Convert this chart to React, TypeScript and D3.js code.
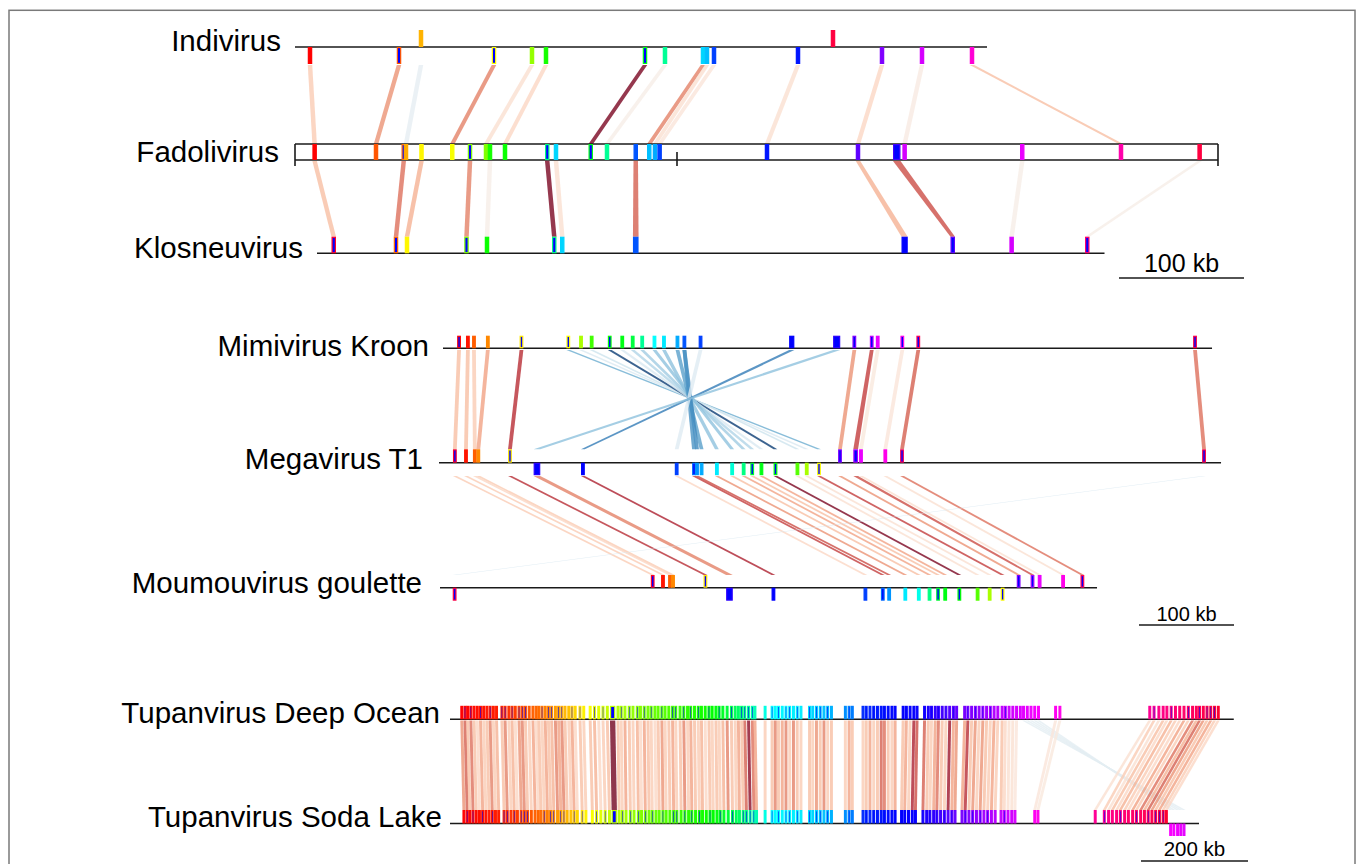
import React from "react";
import * as d3 from "d3";

type Row = number[];

// ================= Panel 1 : Indivirus / Fadolivirus / Klosneuvirus =================
// gene rows: [centre kb, ortholog hue, core (blue fill) 0/1, strand (1 above, -1 below), length kb?]
const indivirusGenes: Row[] = [
  [12.0, 0, 0, -1], [83.2, 20, 1, -1], [100.8, 42, 0, 1], [159.2, 60, 1, -1], [189.6, 85, 0, -1],
  [200.8, 115, 0, -1], [280, 125, 1, -1], [296, 155, 0, -1], [326.4, 190, 0, -1], [329.6, 195, 0, -1],
  [335.2, 225, 0, -1], [402.4, 235, 0, -1], [430.4, 345, 0, 1], [469.6, 270, 0, -1], [501.6, 290, 0, -1],
  [541.6, 310, 0, -1],
];
const fadolivirusGenes: Row[] = [
  [15.7, 0, 0, 1], [64.8, 20, 0, 1], [87, 25, 1, 1], [88.8, 40, 0, 1], [101.2, 58, 0, 1], [125.8, 62, 0, 1],
  [140, 90, 1, 1], [152.8, 90, 0, 1], [156, 115, 0, 1], [168, 118, 0, 1], [201.8, 150, 1, 1], [208.8, 190, 0, 1],
  [236.6, 125, 1, 1], [249.6, 155, 0, 1], [272.6, 220, 0, 1], [283.4, 195, 0, 1], [288, 200, 0, 1],
  [291.7, 225, 0, 1], [377.6, 235, 0, 1], [450.4, 262, 0, 1], [481.4, 255, 1, 1, 6], [487.7, 290, 0, 1],
  [581.8, 295, 0, 1], [660.8, 320, 0, 1], [723.7, 345, 0, 1],
];
const klosneuvirusGenes: Row[] = [
  [13.4, 350, 1, 1], [63.2, 25, 1, 1], [72, 58, 0, 1], [119.6, 90, 1, 1], [136, 118, 0, 1], [189.8, 150, 1, 1],
  [196.2, 190, 0, 1], [255, 220, 0, 1, 4.5], [470.1, 240, 0, 1, 5], [508.6, 262, 1, 1], [555.7, 290, 0, 1],
  [616.2, 335, 1, 1],
];
// comparisons: [kb upper genome, kb lower genome, identity 0..1, inverted 0/1]
const indiFadoLinks: Row[] = [
  [12.0, 15.7, 0.25], [83.2, 64.8, 0.45], [100.8, 88.8, 0.08, 1], [159.2, 125.8, 0.5], [189.6, 152.8, 0.15],
  [200.8, 168, 0.2], [280, 236.6, 0.95], [296, 249.6, 0.05], [326.4, 283.4, 0.5], [329.6, 288, 0.15],
  [335.2, 291.7, 0.12], [402.4, 377.6, 0.15], [469.6, 450.4, 0.2], [501.6, 487.7, 0.08], [541.6, 660.8, 0.3],
];
const fadoKlosLinks: Row[] = [
  [15.7, 13.4, 0.3], [87, 63.2, 0.55], [101.2, 72, 0.35], [140, 119.6, 0.5], [156, 136, 0.05],
  [201.8, 189.8, 0.95], [208.8, 196.2, 0.15], [272.6, 255, 0.6], [450.4, 470.1, 0.35], [481.4, 508.6, 0.65],
  [581.8, 555.7, 0.05], [723.7, 616.2, 0.05],
];
const topGenomeLengths = [553.6, 738.4, 630];
const fadolivirusContigBreaks = [305.6];

// ================= Panel 2 : Mimivirus Kroon / Megavirus T1 / Moumouvirus goulette =================
const mimivirusGenes: Row[] = [
  [16.9, 0, 1, 1], [26.2, 5, 0, 1], [32.6, 22, 0, 1], [47.2, 32, 0, 1], [82.6, 55, 1, 1], [131.9, 60, 1, 1],
  [145.3, 80, 0, 1], [156.5, 105, 0, 1], [175.5, 120, 1, 1], [188.7, 125, 0, 1], [199.7, 135, 0, 1],
  [209.7, 155, 0, 1], [222.6, 180, 0, 1], [232.6, 185, 0, 1], [246.8, 200, 0, 1], [254.1, 220, 0, 1],
  [271.1, 225, 0, 1], [367.1, 240, 0, 1, 5.5], [414.4, 250, 1, 1, 7.5], [433, 270, 1, 1], [451.3, 285, 1, 1],
  [457.6, 295, 0, 1], [483.5, 305, 1, 1], [500.3, 340, 1, 1], [791.6, 345, 1, 1],
];
const megavirusGenes: Row[] = [
  [16.7, 350, 1, 1], [28.4, 5, 0, 1], [37.7, 22, 0, 1], [41.4, 32, 0, 1], [74.7, 55, 1, 1], [422.1, 270, 1, 1],
  [438.6, 280, 1, 1, 5], [444.2, 295, 0, 1], [469.8, 305, 0, 1], [487.4, 340, 1, 1], [805.3, 345, 1, 1],
  [103.1, 250, 1, -1, 7], [151.5, 240, 0, -1], [250.2, 225, 0, -1], [268.4, 215, 1, -1], [271.6, 205, 0, -1],
  [276.4, 200, 0, -1], [292.5, 185, 0, -1], [308.6, 170, 0, -1], [320.7, 150, 0, -1], [329.7, 130, 1, -1],
  [339.4, 125, 0, -1], [354.2, 120, 1, -1], [377.3, 100, 0, -1], [387.1, 80, 0, -1], [400, 60, 1, -1],
];
const moumouvirusGenes: Row[] = [
  [223.9, 350, 1, 1], [234.7, 5, 0, 1], [242.1, 22, 0, 1], [245.3, 32, 0, 1], [279.4, 55, 1, 1],
  [609.1, 270, 1, 1], [623.7, 280, 1, 1], [631.2, 295, 0, 1], [655.9, 305, 0, 1], [676.2, 340, 1, 1],
  [15.4, 345, 1, -1], [304.7, 250, 1, -1, 7], [351, 240, 0, -1], [447.8, 225, 0, -1], [466.1, 215, 1, -1],
  [472.8, 205, 0, -1], [489.8, 185, 0, -1], [504, 175, 0, -1], [515.3, 150, 0, -1], [524.3, 130, 1, -1],
  [531.8, 125, 0, -1], [546.7, 120, 1, -1], [565.9, 100, 0, -1], [578.6, 80, 0, -1], [592.2, 60, 1, -1],
];
const mimiMegaLinks: Row[] = [
  [16.9, 16.7, 0.3], [26.2, 28.4, 0.3], [32.6, 37.7, 0.25], [47.2, 41.4, 0.4], [82.6, 74.7, 0.75],
  [433, 422.1, 0.45], [451.3, 438.6, 0.7], [457.6, 444.2, 0.1], [483.5, 469.8, 0.12], [500.3, 487.4, 0.6],
  [791.6, 805.3, 0.55],
  [131.9, 400, 0.5, 1], [145.3, 387.1, 0.15, 1], [156.5, 377.3, 0.2, 1], [175.5, 354.2, 0.95, 1],
  [188.7, 339.4, 0.15, 1], [199.7, 329.7, 0.3, 1], [209.7, 320.7, 0.35, 1], [222.6, 308.6, 0.4, 1],
  [232.6, 292.5, 0.4, 1], [246.8, 276.4, 0.55, 1], [254.1, 271.6, 0.65, 1], [254.1, 268.4, 0.6, 1],
  [271.1, 250.2, 0.12, 1], [367.1, 151.5, 0.7, 1], [414.4, 103.1, 0.4, 1],
];
const megaMouLinks: Row[] = [
  [16.7, 223.9, 0.25], [28.4, 234.7, 0.25], [37.7, 242.1, 0.2], [41.4, 245.3, 0.25], [74.7, 279.4, 0.75],
  [103.1, 304.7, 0.5], [151.5, 351, 0.8], [250.2, 447.8, 0.2], [268.4, 466.1, 0.7], [271.6, 472.8, 0.65],
  [292.5, 489.8, 0.45], [308.6, 504, 0.3], [320.7, 515.3, 0.4], [329.7, 524.3, 0.3], [339.4, 531.8, 0.4],
  [354.2, 546.7, 0.95], [377.3, 565.9, 0.15], [387.1, 578.6, 0.15], [400, 592.2, 0.7], [422.1, 609.1, 0.45],
  [438.6, 623.7, 0.65], [444.2, 631.2, 0.15], [469.8, 655.9, 0.15], [487.4, 676.2, 0.55],
  [805.3, 15.4, 0.15, 1],
];
const midGenomeLengths = [809.5, 823.2, 691.6];

// ================= Panel 3 : Tupanvirus Deep Ocean / Soda Lake =================
// [kb Deep Ocean, kb Soda Lake, identity, inverted]
const tupLinks: Row[] = [
  [22, 26, 0.45], [28, 32, 0.6], [33, 37, 0.3], [39, 43, 0.55], [45, 49, 0.3], [51, 55, 0.2], [57, 61, 0.4],
  [63, 67, 0.25], [69, 73, 0.3], [75, 79, 0.5], [81, 85, 0.25], [87, 91, 0.35],
  [97, 101, 0.3], [103, 107, 0.5], [110, 114, 0.25], [116, 120, 0.35], [122, 126, 0.2], [129, 133, 0.45],
  [135, 139, 0.5], [141, 145, 0.3], [148, 152, 0.25], [155, 159, 0.4], [161, 165, 0.2],
  [166, 170, 0.3], [172, 176, 0.25], [178, 182, 0.4], [184, 188, 0.3], [190, 194, 0.35], [197, 201, 0.5],
  [203, 207, 0.4], [209, 213, 0.5], [215, 219, 0.3],
  [222, 226, 0.25], [228, 232, 0.4], [234, 238, 0.2], [243, 247, 0.3], [250, 254, 0.25],
  [262, 266, 0.3], [270, 274, 0.35], [278, 282, 0.2], [286, 290, 0.25], [294, 298, 0.3],
  [304, 307, 0.97],
  [314, 316, 0.3], [320, 322, 0.25], [327, 329, 0.4], [335, 337, 0.3], [342, 344, 0.25], [350, 352, 0.35],
  [356, 358, 0.2], [363, 365, 0.4], [370, 372, 0.3], [376, 378, 0.25],
  [383, 385, 0.2], [389, 391, 0.3], [396, 398, 0.45], [402, 404, 0.25], [409, 411, 0.3], [416, 418, 0.4],
  [422, 424, 0.25], [430, 432, 0.3], [437, 439, 0.5], [444, 446, 0.25], [450, 452, 0.4], [457, 459, 0.3],
  [464, 466, 0.25], [470, 472, 0.35], [477, 479, 0.2], [484, 486, 0.3], [490, 492, 0.25],
  [497, 499, 0.3], [503, 505, 0.25], [510, 512, 0.35], [518, 520, 0.5], [526, 528, 0.3], [533, 535, 0.25],
  [539, 541, 0.4],
  [545, 548, 0.3], [551, 554, 0.6], [558, 561, 0.9], [565, 568, 0.55], [570, 573, 0.4],
  [589, 589, 0.25], [602, 602, 0.3], [608, 608, 0.5], [614, 614, 0.3], [621, 621, 0.4], [628, 628, 0.5],
  [635, 635, 0.25], [642, 642, 0.5], [649, 649, 0.3], [656, 656, 0.25],
  [672, 672, 0.3], [678, 678, 0.25], [685, 685, 0.45], [692, 692, 0.3], [699, 699, 0.5], [706, 706, 0.25],
  [713, 713, 0.3],
  [739, 739, 0.25], [746, 746, 0.4], [752, 752, 0.3],
  [772, 772, 0.25], [778, 778, 0.3], [785, 785, 0.4], [792, 792, 0.25], [799, 799, 0.3], [806, 806, 0.6],
  [812, 812, 0.55], [819, 819, 0.3], [826, 826, 0.25], [832, 832, 0.4],
  [847, 844, 0.3], [853, 850, 0.4], [860, 857, 0.25], [867, 864, 0.8], [873, 870, 0.65],
  [887, 884, 0.6], [894, 891, 0.3], [900, 897, 0.25],
  [907, 904, 0.4], [913, 910, 0.55], [920, 917, 0.3], [927, 924, 0.25], [934, 931, 0.85], [941, 938, 0.4],
  [947, 944, 0.45],
  [962, 957, 0.4], [968, 963, 0.75], [975, 970, 0.3], [982, 977, 0.45], [989, 984, 0.25], [996, 991, 0.45],
  [1003, 998, 0.3], [1010, 1005, 0.25], [1017, 1012, 0.4], [1024, 1019, 0.25],
  [1032, 1030, 0.3], [1038, 1036, 0.2], [1045, 1043, 0.15], [1052, 1050, 0.15], [1059, 1056, 0.12],
  [1072, 1372, 0.1, 1], [1079, 1366, 0.1, 1], [1086, 1360, 0.1, 1], [1093, 1353, 0.1, 1], [1100, 1347, 0.1, 1],
  [1132, 1093, 0.12], [1140, 1099, 0.1],
  [1308, 1206, 0.15], [1316, 1223, 0.25], [1325, 1231, 0.15], [1333, 1238, 0.3], [1340, 1246, 0.2],
  [1348, 1253, 0.35], [1356, 1261, 0.25], [1364, 1268, 0.2], [1372, 1276, 0.4], [1380, 1283, 0.25],
  [1388, 1291, 0.55], [1395, 1298, 0.35], [1401, 1305, 0.6], [1408, 1312, 0.45], [1415, 1319, 0.3],
  [1422, 1326, 0.4], [1429, 1333, 0.25], [1436, 1339, 0.2],
];
const tupDeepOceanOnly = [1066];
const tupCoreDO = [28, 39, 57, 75, 97, 103, 116, 129, 135, 141, 172, 184, 190, 203, 209, 228, 243, 270, 286,
  304, 320, 335, 350, 363, 376, 396, 416, 422, 437, 450, 464, 484, 503, 526, 545, 551, 558, 565, 602, 614,
  628, 635, 649, 672, 685, 692, 706, 746, 778, 792, 812, 853, 867, 887, 900, 913, 927, 941, 968, 982, 996,
  1010, 1038, 1316, 1348, 1380, 1401, 1415, 1422, 1429];
const tupWideDO: Row[] = [[304, 10]];
const tupHueStopsKb = [22, 94, 165, 221, 258, 300, 380, 492, 542, 574, 600, 662, 720, 756, 772, 836, 877, 903,
  950, 1031, 1105, 1145, 1307, 1400, 1441];
const tupHueStops = [0, 8, 25, 45, 60, 75, 95, 120, 145, 165, 180, 185, 200, 212, 230, 240, 242, 250, 265, 285,
  300, 305, 325, 340, 350];
const botGenomeLengths = [1465, 1400];

const scaleBarKb = [100, 100, 200];
const scaleBarLabels = ["100 kb", "100 kb", "200 kb"];

// ================= rendering =================
interface Gene { pos: number; hue: number; core: boolean; strand: number; len: number }
interface Track {
  name: string; genes: Gene[]; length: number; x0: number; k: number; y: number;
  hA: number; hB: number; labelX: number; labelY: number; frame?: boolean; breaks?: number[];
}

const toGenes = (rows: Row[], defLen: number): Gene[] =>
  rows.map((r) => ({ pos: r[0], hue: r[1], core: r[2] === 1, strand: r[3], len: r[4] ?? defLen }));

const scaleOf = (t: Track) => d3.scaleLinear().domain([0, t.length]).range([t.x0, t.x0 + t.length * t.k]);

const FONT = "'Liberation Sans', Arial, Helvetica, sans-serif";

function TrackView({ t }: { t: Track }) {
  const s = scaleOf(t);
  const top = t.y - t.hA;
  return (
    <g>
      <text x={t.labelX} y={t.labelY} textAnchor="end" fontSize={29.5} fontFamily={FONT} fill="#000">
        {t.name}
      </text>
      <line x1={s(0)} x2={s(t.length)} y1={t.y} y2={t.y} stroke="#1a1a1a" strokeWidth={1.6} />
      {t.frame && (
        <g stroke="#1a1a1a" strokeWidth={1.6}>
          <line x1={s(0)} x2={s(t.length)} y1={top} y2={top} />
          <line x1={s(0)} x2={s(0)} y1={top} y2={t.y + 6} />
          <line x1={s(t.length)} x2={s(t.length)} y1={top} y2={t.y + 6} />
          {(t.breaks ?? []).map((b, i) => (
            <line key={i} x1={s(b)} x2={s(b)} y1={top + 8} y2={t.y + 6} />
          ))}
        </g>
      )}
      {t.genes.map((g, i) => {
        const x1 = s(g.pos - g.len / 2);
        const x2 = s(g.pos + g.len / 2);
        const c = d3.hsl(g.hue, 1, 0.5).formatHex();
        const above = g.strand >= 0;
        const y1 = above ? t.y - t.hA : t.y;
        const h = above ? t.hA : t.hB;
        const sw = 1.2;
        return (
          <rect key={i} x={x1 + sw / 2} y={y1 + sw / 2} width={Math.max(0.6, x2 - x1 - sw)}
            height={h - sw} fill={g.core ? "#0000ff" : c} stroke={c} strokeWidth={sw} />
        );
      })}
    </g>
  );
}

function LinkView({ a, b, links, yA, yB, defLen }: { a: Track; b: Track; links: Row[]; yA: number; yB: number; defLen: number }) {
  const sa = scaleOf(a), sb = scaleOf(b);
  return (
    <g>
      {links.map((l, i) => {
        const ga = a.genes.find((g) => Math.abs(g.pos - l[0]) < 0.01);
        const gb = b.genes.find((g) => Math.abs(g.pos - l[1]) < 0.01);
        const la = ga ? ga.len : defLen, lb = gb ? gb.len : defLen;
        const inv = l[3] === 1;
        const t = inv ? 0.5 + 0.5 * l[2] : 0.5 - 0.5 * l[2];
        const pts = [
          [sa(l[0] - la / 2), yA], [sa(l[0] + la / 2), yA],
          [sb(l[1] + lb / 2), yB], [sb(l[1] - lb / 2), yB],
        ];
        return (
          <polygon key={i} points={pts.map((p) => p.join(",")).join(" ")}
            fill={d3.interpolateRdBu(t)} fillOpacity={0.8} />
        );
      })}
    </g>
  );
}

export default function App() {
  const TOP_K = 1.25, MID_K = 0.95, BOT_K = 0.535;
  const TOP_LEN = 3.6, MID_LEN = 4.0, BOT_LEN = 5.5;

  const indi: Track = { name: "Indivirus", genes: toGenes(indivirusGenes, TOP_LEN), length: topGenomeLengths[0],
    x0: 295, k: TOP_K, y: 47, hA: 17, hB: 17, labelX: 281, labelY: 51 };
  const fado: Track = { name: "Fadolivirus", genes: toGenes(fadolivirusGenes, TOP_LEN), length: topGenomeLengths[1],
    x0: 295, k: TOP_K, y: 160, hA: 16, hB: 16, labelX: 279, labelY: 162, frame: true, breaks: fadolivirusContigBreaks };
  const klos: Track = { name: "Klosneuvirus", genes: toGenes(klosneuvirusGenes, TOP_LEN), length: topGenomeLengths[2],
    x0: 317, k: TOP_K, y: 253.3, hA: 16.6, hB: 16.6, labelX: 303, labelY: 257.5 };

  const mimi: Track = { name: "Mimivirus Kroon", genes: toGenes(mimivirusGenes, MID_LEN), length: midGenomeLengths[0],
    x0: 443, k: MID_K, y: 348.3, hA: 12.6, hB: 12.6, labelX: 429, labelY: 355.5 };
  const mega: Track = { name: "Megavirus T1", genes: toGenes(megavirusGenes, MID_LEN), length: midGenomeLengths[1],
    x0: 439, k: MID_K, y: 462.7, hA: 13.4, hB: 12.5, labelX: 423, labelY: 469 };
  const mou: Track = { name: "Moumouvirus goulette", genes: toGenes(moumouvirusGenes, MID_LEN), length: midGenomeLengths[2],
    x0: 440, k: MID_K, y: 587.7, hA: 12.7, hB: 13, labelX: 422, labelY: 593 };

  const hueTup = d3.scaleLinear<number>().domain(tupHueStopsKb).range(tupHueStops).clamp(true);
  const wide = new Map(tupWideDO.map((w) => [w[0], w[1]] as [number, number]));
  const doGenes: Gene[] = [
    ...tupLinks.map((l) => ({ pos: l[0], hue: hueTup(l[0]), core: tupCoreDO.includes(l[0]), strand: 1, len: wide.get(l[0]) ?? BOT_LEN })),
    ...tupDeepOceanOnly.map((p) => ({ pos: p, hue: hueTup(p), core: false, strand: 1, len: BOT_LEN })),
  ];
  const slGenes: Gene[] = tupLinks.map((l) => ({
    pos: l[1], hue: hueTup(l[0]), core: tupCoreDO.includes(l[0]), strand: l[3] === 1 ? -1 : 1,
    len: wide.get(l[0]) ?? BOT_LEN,
  }));
  const tdo: Track = { name: "Tupanvirus Deep Ocean", genes: doGenes, length: botGenomeLengths[0],
    x0: 450, k: BOT_K, y: 719.3, hA: 13.5, hB: 13, labelX: 440, labelY: 723 };
  const tsl: Track = { name: "Tupanvirus Soda Lake", genes: slGenes, length: botGenomeLengths[1],
    x0: 450, k: BOT_K, y: 823.5, hA: 13.5, hB: 12.5, labelX: 442, labelY: 827 };

  const bars = [
    { kb: scaleBarKb[0], label: scaleBarLabels[0], k: TOP_K, x: 1119, y: 278, ty: 272, fs: 25 },
    { kb: scaleBarKb[1], label: scaleBarLabels[1], k: MID_K, x: 1139, y: 625, ty: 620.5, fs: 20 },
    { kb: scaleBarKb[2], label: scaleBarLabels[2], k: BOT_K, x: 1141, y: 861, ty: 856, fs: 20.5 },
  ];

  return (
    <svg width={1358} height={864} viewBox="0 0 1358 864"
      style={{ position: "absolute", left: 0, top: 0, background: "#fff" }}>
      <rect x={0} y={0} width={1358} height={864} fill="#fff" />
      <rect x={9} y={10.3} width={1346} height={900} fill="none" stroke="#7a7a7a" strokeWidth={1.5} />

      <LinkView a={indi} b={fado} links={indiFadoLinks} yA={65} yB={144} defLen={TOP_LEN} />
      <LinkView a={fado} b={klos} links={fadoKlosLinks} yA={161} yB={236.7} defLen={TOP_LEN} />
      <LinkView a={mimi} b={mega} links={mimiMegaLinks} yA={350} yB={449.3} defLen={MID_LEN} />
      <LinkView a={mega} b={mou} links={megaMouLinks} yA={476} yB={575} defLen={MID_LEN} />
      <LinkView a={tdo} b={tsl} links={tupLinks} yA={720.5} yB={810} defLen={BOT_LEN} />

      {[indi, fado, klos, mimi, mega, mou, tdo, tsl].map((t, i) => (
        <TrackView key={i} t={t} />
      ))}

      {bars.map((b, i) => {
        const s = d3.scaleLinear().domain([0, b.kb]).range([b.x, b.x + b.kb * b.k]);
        return (
          <g key={i}>
            <line x1={s(0)} x2={s(b.kb)} y1={b.y} y2={b.y} stroke="#1a1a1a" strokeWidth={1.6} />
            <text x={s(b.kb / 2)} y={b.ty} textAnchor="middle" fontSize={b.fs} fontFamily={FONT} fill="#000">
              {b.label}
            </text>
          </g>
        );
      })}
    </svg>
  );
}
